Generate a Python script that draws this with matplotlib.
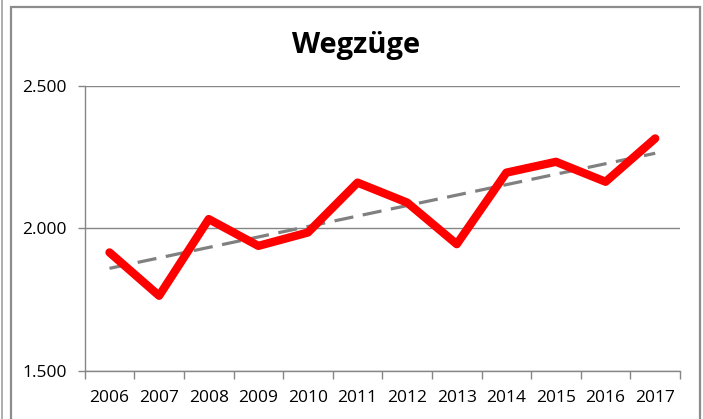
import matplotlib
matplotlib.use("Agg")
import matplotlib.pyplot as plt
import numpy as np
from matplotlib.patches import Rectangle
from matplotlib.lines import Line2D

years = ["2006", "2007", "2008", "2009", "2010", "2011", "2012",
         "2013", "2014", "2015", "2016", "2017"]
wegzuege = [1916, 1764, 2033, 1939, 1986, 2161, 2091, 1945, 2196, 2234, 2164, 2316]
y_ticks = [1500, 2000, 2500]
y_labels = ["1.500", "2.000", "2.500"]
title = "Wegzüge"

W, H = 703, 419
fig = plt.figure(figsize=(W / 100, H / 100), dpi=100)
plt.rcParams['font.family'] = ['Open Sans', 'DejaVu Sans']

# outer frame
fig.patches.append(Rectangle((11 / W, -0.05), (700 - 11) / W, (H - 7) / H + 0.05,
                             transform=fig.transFigure, fill=False,
                             edgecolor="#8c8c8c", linewidth=1.6))
fig.lines.append(Line2D([1.5 / W, 1.5 / W], [0, 1], transform=fig.transFigure,
                        color="#a0a0a0", linewidth=1.2))

left, right, top, bottom = 84.7, 680, 86, 371
ax = fig.add_axes([left / W, 1 - bottom / H, (right - left) / W, (bottom - top) / H])

x = np.arange(len(years))
coef = np.polyfit(x, wegzuege, 1)
trend = np.polyval(coef, x)

ax.plot(x, trend, color="#808080", linewidth=2.3, linestyle=(0, (6, 3)), zorder=2)
ax.plot(x, wegzuege, color="#ff0000", linewidth=6.0, solid_joinstyle="round",
        solid_capstyle="round", zorder=3)

ax.set_xlim(-0.5, len(years) - 0.5)
ax.set_ylim(1500, 2500)
ax.set_yticks(y_ticks)
ax.set_yticklabels(y_labels)
ax.grid(axis="y", color="#868686", linewidth=1.0)
ax.set_axisbelow(True)

ax.set_xticks(np.arange(-0.5, len(years), 1.0))
ax.set_xticklabels([])
ax.set_xticks(x, minor=True)
ax.set_xticklabels(years, minor=True)
ax.tick_params(axis="x", which="major", length=6, width=1, color="#868686", direction="out")
ax.tick_params(axis="x", which="minor", length=0, pad=14, labelsize=12.5)
ax.tick_params(axis="y", length=5, width=1, color="#868686", pad=8, labelsize=12.5)

for s in ["top", "right"]:
    ax.spines[s].set_visible(False)
for s in ["left", "bottom"]:
    ax.spines[s].set_color("#868686")
    ax.spines[s].set_linewidth(1.0)

fig.text(356 / W, 1 - 45 / H, title, ha="center", va="center",
         fontsize=21, fontweight="bold", color="#000000")

fig.savefig("out.png", dpi=100)
